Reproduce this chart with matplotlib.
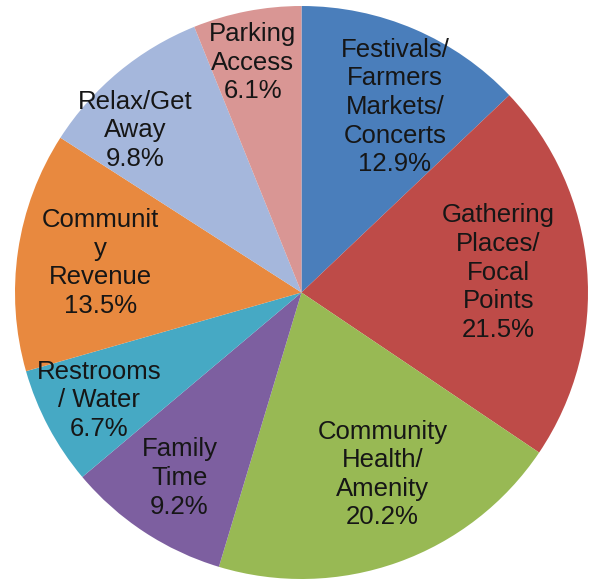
import matplotlib.pyplot as plt
import numpy as np

# slice data, clockwise from 12 o'clock
labels = ["Festivals/\nFarmers\nMarkets/\nConcerts", "Gathering\nPlaces/\nFocal\nPoints",
          "Community\nHealth/\nAmenity", "Family\nTime", "Restrooms\n/ Water",
          "Communit\ny\nRevenue", "Relax/Get\nAway", "Parking\nAccess"]
shares = [12.9, 21.5, 20.2, 9.2, 6.7, 13.5, 9.8, 6.1]
colors = ["#4a7ebb", "#be4b48", "#98b954", "#7d5fa0", "#46a9c4", "#e8893f", "#a5b7dc", "#d99694"]
# label placement: fraction of radius, and nudge (deg, clockwise) from the wedge middle
label_r = [0.725, 0.69, 0.695, 0.775, 0.80, 0.71, 0.81, 0.82]
label_nudge = [3.5, -1, -4.4, 0, 0, 0, -6, -1]

plt.rcParams['font.family'] = ['Liberation Sans', 'DejaVu Sans']

fig = plt.figure(figsize=(5.89, 5.80), dpi=100)
ax = fig.add_axes([15 / 589, 1 / 580, 573 / 589, 573 / 580])
wedges, _ = ax.pie(shares, colors=colors, startangle=90, counterclock=False,
                   wedgeprops=dict(linewidth=0))
ax.set_xlim(-1, 1)
ax.set_ylim(-1, 1)
ax.set_aspect('equal')
ax.axis('off')

for w, lab, s, d, n in zip(wedges, labels, shares, label_r, label_nudge):
    mid = np.deg2rad((w.theta1 + w.theta2) / 2 - n)
    ax.text(d * np.cos(mid), d * np.sin(mid), f"{lab}\n{s:.1f}%",
            ha='center', va='center', fontsize=18.5, color='#161616', linespacing=1.24)

fig.savefig('out.png', dpi=100)
